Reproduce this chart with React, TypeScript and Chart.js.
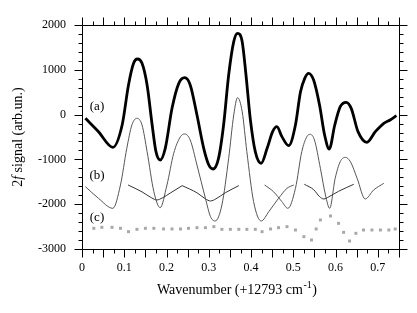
import React, { useEffect, useRef } from 'react';
import { Chart, registerables } from 'chart.js';

Chart.register(...registerables);

// ---- axis ranges & ticks ----
const xRange = [0, 0.75];
const yRange = [-3000, 2000];
const xTickLabels = [0, 0.1, 0.2, 0.3, 0.4, 0.5, 0.6, 0.7];
const yTickLabels = [-3000, -2000, -1000, 0, 1000, 2000];
const xMinorStep = 0.025;
const yMinorStep = 200;

// ---- (a) measured 2f signal ----
const aX = [0.008, 0.039, 0.073, 0.095, 0.110, 0.122, 0.131, 0.142, 0.154, 0.166, 0.175, 0.185, 0.197, 0.213, 0.229, 0.243, 0.256, 0.272, 0.288, 0.300, 0.310, 0.323, 0.335, 0.347, 0.359, 0.368, 0.379, 0.388, 0.398, 0.410, 0.424, 0.438, 0.451, 0.461, 0.473, 0.489, 0.505, 0.517, 0.527, 0.536, 0.548, 0.562, 0.574, 0.585, 0.598, 0.611, 0.625, 0.637, 0.653, 0.674, 0.694, 0.714, 0.729, 0.744];
const aY = [-83, -381, -730, -232, 661, 1144, 1241, 1144, 661, -232, -827, -1013, -753, 140, 698, 824, 661, -9, -753, -1125, -1214, -976, -232, 884, 1628, 1814, 1628, 884, -83, -827, -1088, -753, -381, -269, -492, -693, -232, 512, 810, 921, 772, 214, -455, -768, -232, 177, 274, 140, -381, -619, -381, -195, -120, -24];

// ---- (b) fitted pieces ----
const b1X = [0.008, 0.039, 0.073, 0.091, 0.106, 0.118, 0.130, 0.142, 0.154, 0.170, 0.185, 0.201, 0.217, 0.233, 0.243, 0.256, 0.272, 0.292, 0.304, 0.315, 0.331, 0.347, 0.359, 0.368, 0.379, 0.390, 0.406, 0.424, 0.442, 0.465, 0.485, 0.501];
const b1Y = [-1608, -1869, -2092, -1571, -753, -232, -83, -232, -827, -1720, -2077, -1571, -864, -492, -433, -567, -1125, -1869, -2278, -2375, -2018, -976, -9, 378, 66, -827, -1943, -2375, -2166, -1869, -1646, -1571];
const b2X = [0.432, 0.453, 0.473, 0.487, 0.505, 0.520, 0.532, 0.540, 0.550, 0.564, 0.576, 0.586, 0.599, 0.611, 0.623, 0.635, 0.651, 0.670, 0.690, 0.714];
const b2Y = [-1571, -1720, -1943, -2092, -1646, -827, -492, -440, -567, -1199, -1794, -2092, -1422, -1050, -954, -1050, -1422, -1884, -1683, -1534];
const c1X = [0.109, 0.142, 0.165, 0.177, 0.190, 0.209, 0.237];
const c1Y = [-1571, -1725, -1860, -1906, -1860, -1750, -1586];
const c2X = [0.237, 0.272, 0.292, 0.304, 0.317, 0.339, 0.371];
const c2Y = [-1586, -1745, -1880, -1928, -1880, -1745, -1586];
const c3X = [0.526, 0.548, 0.562, 0.572, 0.584, 0.607, 0.643];
const c3Y = [-1556, -1675, -1830, -1884, -1835, -1712, -1556];

// ---- (c) residual (markers) ----
const dX = [0.028, 0.047, 0.071, 0.091, 0.110, 0.130, 0.150, 0.170, 0.193, 0.213, 0.233, 0.252, 0.272, 0.292, 0.312, 0.331, 0.351, 0.371, 0.390, 0.410, 0.426, 0.446, 0.465, 0.485, 0.505, 0.525, 0.543, 0.554, 0.564, 0.588, 0.607, 0.619, 0.633, 0.648, 0.666, 0.686, 0.706, 0.726, 0.741];
const dY = [-2538, -2516, -2516, -2538, -2613, -2561, -2538, -2538, -2553, -2553, -2553, -2538, -2524, -2524, -2501, -2561, -2561, -2561, -2561, -2561, -2613, -2553, -2524, -2501, -2576, -2724, -2799, -2553, -2352, -2263, -2427, -2628, -2821, -2650, -2576, -2576, -2576, -2576, -2553];

// ---- panel labels ----
const panelLabels = ['(a)', '(b)', '(c)'];
const panelLabelX = [0.0355, 0.0355, 0.0355];
const panelLabelY = [177, -1363, -2293];

const SERIF = '"Liberation Serif", "Times New Roman", serif';

const pts = (xs: number[], ys: number[]) => xs.map((x, i) => ({ x, y: ys[i] }));

const framePlugin = {
  id: 'frameAndText',
  afterDraw(chart: any) {
    const { ctx, chartArea: ca, scales } = chart;
    const xs = scales.x;
    const ys = scales.y;
    ctx.save();
    ctx.strokeStyle = '#000';
    ctx.lineWidth = 1;
    const L = Math.round(ca.left) + 0.5;
    const R = Math.round(ca.right) + 0.5;
    const T = Math.round(ca.top) + 0.5;
    const B = Math.round(ca.bottom) + 0.5;
    ctx.beginPath();
    ctx.rect(L, T, R - L, B - T);
    ctx.stroke();
    ctx.beginPath();
    const nx = Math.round((xRange[1] - xRange[0]) / xMinorStep);
    for (let i = 0; i <= nx; i++) {
      const v = xRange[0] + i * xMinorStep;
      const p = Math.round(xs.getPixelForValue(v)) + 0.5;
      const len = i % 2 === 0 ? 8 : 4;
      ctx.moveTo(p, B); ctx.lineTo(p, B + len);
      ctx.moveTo(p, T); ctx.lineTo(p, T - len);
    }
    const ny = Math.round((yRange[1] - yRange[0]) / yMinorStep);
    for (let i = 0; i <= ny; i++) {
      const v = yRange[0] + i * yMinorStep;
      const p = Math.round(ys.getPixelForValue(v)) + 0.5;
      const len = v % 1000 === 0 ? 8 : 4;
      ctx.moveTo(L, p); ctx.lineTo(L - len, p);
      ctx.moveTo(R, p); ctx.lineTo(R + len, p);
    }
    ctx.stroke();

    // panel labels
    ctx.fillStyle = '#000';
    ctx.font = `13px ${SERIF}`;
    ctx.textAlign = 'center';
    ctx.textBaseline = 'middle';
    panelLabels.forEach((t, i) => {
      ctx.fillText(t, xs.getPixelForValue(panelLabelX[i]), ys.getPixelForValue(panelLabelY[i]));
    });

    // x title with superscript
    ctx.textAlign = 'left';
    ctx.textBaseline = 'alphabetic';
    const main = 'Wavenumber (+12793 cm';
    const sup = '-1';
    const close = ')';
    ctx.font = `14px ${SERIF}`;
    const wMain = ctx.measureText(main).width;
    const wClose = ctx.measureText(close).width;
    ctx.font = `10px ${SERIF}`;
    const wSup = ctx.measureText(sup).width;
    const total = wMain + wSup + wClose + 1;
    const x0 = 237 - total / 2;
    const base = 294;
    ctx.font = `14px ${SERIF}`;
    ctx.fillText(main, x0, base);
    ctx.font = `10px ${SERIF}`;
    ctx.fillText(sup, x0 + wMain + 0.5, base - 6);
    ctx.font = `14px ${SERIF}`;
    ctx.fillText(close, x0 + wMain + wSup + 1, base);

    // y title: 2f signal (arb.un.)
    ctx.save();
    ctx.translate(22, 137);
    ctx.rotate(-Math.PI / 2);
    const p1 = '2';
    const p2 = 'f';
    const p3 = ' signal (arb.un.)';
    ctx.font = `14px ${SERIF}`;
    const w1 = ctx.measureText(p1).width;
    const w3 = ctx.measureText(p3).width;
    ctx.font = `italic 14px ${SERIF}`;
    const w2 = ctx.measureText(p2).width;
    const sx = -(w1 + w2 + w3) / 2;
    ctx.font = `14px ${SERIF}`;
    ctx.fillText(p1, sx, 0);
    ctx.font = `italic 14px ${SERIF}`;
    ctx.fillText(p2, sx + w1, 0);
    ctx.font = `14px ${SERIF}`;
    ctx.fillText(p3, sx + w1 + w2, 0);
    ctx.restore();

    ctx.restore();
  },
};

export default function App() {
  const ref = useRef<HTMLCanvasElement | null>(null);
  useEffect(() => {
    if (!ref.current) return;
    const thin = (xs: number[], ys: number[], color: string) => ({
      data: pts(xs, ys),
      borderColor: color,
      borderWidth: 1,
      pointRadius: 0,
      fill: false,
      cubicInterpolationMode: 'monotone' as const,
    });
    const chart = new Chart(ref.current, {
      type: 'line',
      data: {
        datasets: [
          {
            data: pts(dX, dY),
            showLine: false,
            pointStyle: 'rect',
            pointRadius: 2.1,
            pointBorderWidth: 0,
            pointBackgroundColor: '#a8a8a8',
            borderColor: '#a8a8a8',
            backgroundColor: '#a8a8a8',
          },
          thin(c1X, c1Y, '#333'),
          thin(c2X, c2Y, '#333'),
          thin(c3X, c3Y, '#333'),
          thin(b1X, b1Y, '#555'),
          thin(b2X, b2Y, '#555'),
          {
            data: pts(aX, aY),
            borderColor: '#000',
            borderWidth: 2.8,
            pointRadius: 0,
            fill: false,
            cubicInterpolationMode: 'monotone',
          },
        ],
      },
      options: {
        animation: false,
        responsive: false,
        devicePixelRatio: 1,
        layout: { padding: { top: 25, right: 18, left: 0, bottom: 0 } },
        plugins: { legend: { display: false }, tooltip: { enabled: false } },
        scales: {
          x: {
            type: 'linear',
            min: xRange[0],
            max: xRange[1],
            grid: { display: false, drawTicks: false },
            border: { display: false },
            afterBuildTicks: (s: any) => { s.ticks = xTickLabels.map((v) => ({ value: v })); },
            afterFit: (s: any) => { s.height = 64; },
            ticks: {
              padding: 12,
              maxRotation: 0,
              autoSkip: false,
              color: '#000',
              font: { family: SERIF, size: 12 },
              callback: (v: any) => String(Math.round(Number(v) * 10) / 10),
            },
          },
          y: {
            type: 'linear',
            min: yRange[0],
            max: yRange[1],
            grid: { display: false, drawTicks: false },
            border: { display: false },
            afterBuildTicks: (s: any) => { s.ticks = yTickLabels.map((v) => ({ value: v })); },
            afterFit: (s: any) => { s.width = 82; },
            ticks: {
              padding: 16,
              autoSkip: false,
              color: '#000',
              font: { family: SERIF, size: 12 },
              callback: (v: any) => String(v),
            },
          },
        },
      },
      plugins: [framePlugin],
    });
    return () => chart.destroy();
  }, []);
  return (
    <div style={{ position: 'absolute', left: 0, top: 0, width: 417, height: 313, background: '#fff' }}>
      <canvas ref={ref} width={417} height={313} style={{ display: 'block' }} />
    </div>
  );
}
